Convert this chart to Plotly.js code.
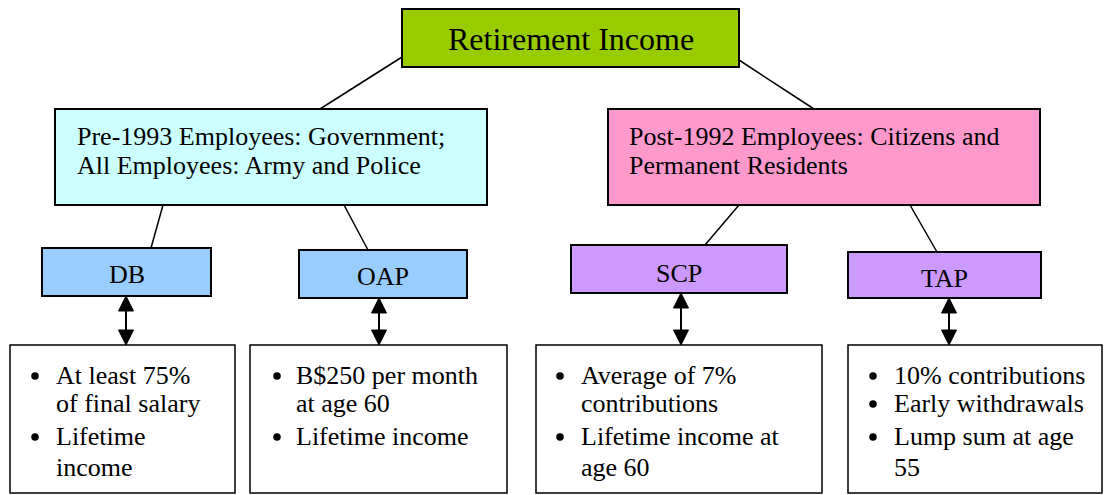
<!DOCTYPE html>
<html>
<head>
<meta charset="utf-8">
<script src="https://cdn.plot.ly/plotly-3.0.1.min.js"></script>
<style>
  html, body { margin: 0; padding: 0; background: #ffffff; }
  #chart { width: 1104px; height: 495px; }
</style>
</head>
<body>
<div id="chart"></div>
<script>
// ---------------- DATA ----------------
const rootLabel = "Retirement Income";
const groupLines = [
  ["Pre-1993 Employees: Government;", "All Employees: Army and Police"],
  ["Post-1992 Employees: Citizens and", "Permanent Residents"]
];
const schemeNames = ["DB", "OAP", "SCP", "TAP"];
const schemeGroup = [0, 0, 1, 1];
const schemeBullets = [
  [["At least 75%", "of final salary"], ["Lifetime", "income"]],
  [["B$250 per month", "at age 60"], ["Lifetime income"]],
  [["Average of 7%", "contributions"], ["Lifetime income at", "age 60"]],
  [["10% contributions"], ["Early withdrawals"], ["Lump sum at age", "55"]]
];

// ---------------- GEOMETRY / STYLE ----------------
const W = 1104, H = 495;
const FONT = "Liberation Serif, Times New Roman, serif";
const FS = 26, FS_ROOT = 32;
const rootBox = {x0: 402, x1: 739, y0: 9, y1: 67, fill: "#99CC00", base: 50};
const groupBoxes = [
  {x0: 55, x1: 487, y0: 109, y1: 205, fill: "#CCFFFF", tx: 76},
  {x0: 608, x1: 1040, y0: 109, y1: 205, fill: "#FF99CC", tx: 628}
];
const groupBase = [145, 174];
const schemeBoxes = [
  {x0: 42, x1: 211, y0: 248, y1: 296, fill: "#99CCFF", base: 283},
  {x0: 299, x1: 467, y0: 250, y1: 298, fill: "#99CCFF", base: 285},
  {x0: 571, x1: 787, y0: 245, y1: 293, fill: "#CC99FF", base: 282},
  {x0: 848, x1: 1041, y0: 252, y1: 298, fill: "#CC99FF", base: 287}
];
const detailBoxes = [
  {x0: 10, x1: 235, bx: 35, tx: 55, ax: 126},
  {x0: 250, x1: 507, bx: 277, tx: 295, ax: 379},
  {x0: 536, x1: 822, bx: 560, tx: 580, ax: 681},
  {x0: 848, x1: 1102, bx: 873, tx: 893, ax: 949}
];
const detailTop = 345, detailBottom = 493;
const rowBase = [384, 412, 445, 476];
const rootConnect = [[402, 57, 320, 109], [739, 60, 814, 109]];
const groupConnect = [[163, 205, 151, 248], [344, 205, 368, 250], [739, 205, 705, 245], [910, 205, 937, 252]];

const shapes = [];
const annotations = [];
const bulletX = [], bulletY = [];

function rect(b, fill, w) {
  shapes.push({type: "rect", xref: "x", yref: "y", x0: b.x0, x1: b.x1, y0: b.y0, y1: b.y1,
    fillcolor: fill, line: {color: "#000000", width: w}, layer: "below"});
}
function seg(c, w) {
  shapes.push({type: "line", xref: "x", yref: "y", x0: c[0], y0: c[1], x1: c[2], y1: c[3],
    line: {color: "#000000", width: w}, layer: "below"});
}
function label(text, x, base, fs, anchor) {
  annotations.push({text: text, x: x, y: base - 0.34 * fs, xref: "x", yref: "y",
    xanchor: anchor, yanchor: "middle", showarrow: false, borderpad: 0,
    font: {family: FONT, size: fs, color: "#000000"}});
}
function tri(x, tipY, dir) {
  const hw = 7.5, len = 15;
  const by = tipY + dir * len;
  shapes.push({type: "path", xref: "x", yref: "y",
    path: "M " + x + " " + tipY + " L " + (x - hw) + " " + by + " L " + (x + hw) + " " + by + " Z",
    fillcolor: "#000000", line: {color: "#000000", width: 1}});
}

// connectors
rootConnect.forEach(c => seg(c, 1.5));
groupConnect.forEach(c => seg(c, 1.5));

// root
rect(rootBox, rootBox.fill, 2);
label(rootLabel, (rootBox.x0 + rootBox.x1) / 2, rootBox.base, FS_ROOT, "center");

// groups
groupBoxes.forEach((b, i) => {
  rect(b, b.fill, 2);
  groupLines[i].forEach((t, j) => label(t, b.tx, groupBase[j], FS, "left"));
});

// schemes, arrows, details
schemeNames.forEach((name, i) => {
  const b = schemeBoxes[i];
  rect(b, b.fill, 2);
  label(name, (b.x0 + b.x1) / 2, b.base, FS, "center");

  const d = detailBoxes[i];
  rect({x0: d.x0, x1: d.x1, y0: detailTop, y1: detailBottom}, "#FFFFFF", 1.5);

  // double-headed arrow
  seg([d.ax, b.y1 + 8, d.ax, detailTop - 8], 2);
  tri(d.ax, b.y1, 1);
  tri(d.ax, detailTop, -1);

  let row = 0;
  schemeBullets[i].forEach(item => {
    bulletX.push(d.bx);
    bulletY.push(rowBase[row] - 8);
    item.forEach(line => {
      label(line, d.tx, rowBase[row], FS, "left");
      row++;
    });
  });
});

const layout = {
  width: W, height: H,
  margin: {l: 0, r: 0, t: 0, b: 0, pad: 0},
  paper_bgcolor: "#FFFFFF", plot_bgcolor: "#FFFFFF",
  showlegend: false,
  xaxis: {range: [0, W], visible: false, fixedrange: true},
  yaxis: {range: [H, 0], visible: false, fixedrange: true},
  shapes: shapes,
  annotations: annotations
};

const bulletTrace = {x: bulletX, y: bulletY, mode: "markers", type: "scatter",
  marker: {symbol: "circle", size: 7.5, color: "#000000", line: {width: 0}},
  hoverinfo: "skip", cliponaxis: false};

Plotly.newPlot("chart", [bulletTrace], layout, {staticPlot: true, displayModeBar: false});
</script>
</body>
</html>
